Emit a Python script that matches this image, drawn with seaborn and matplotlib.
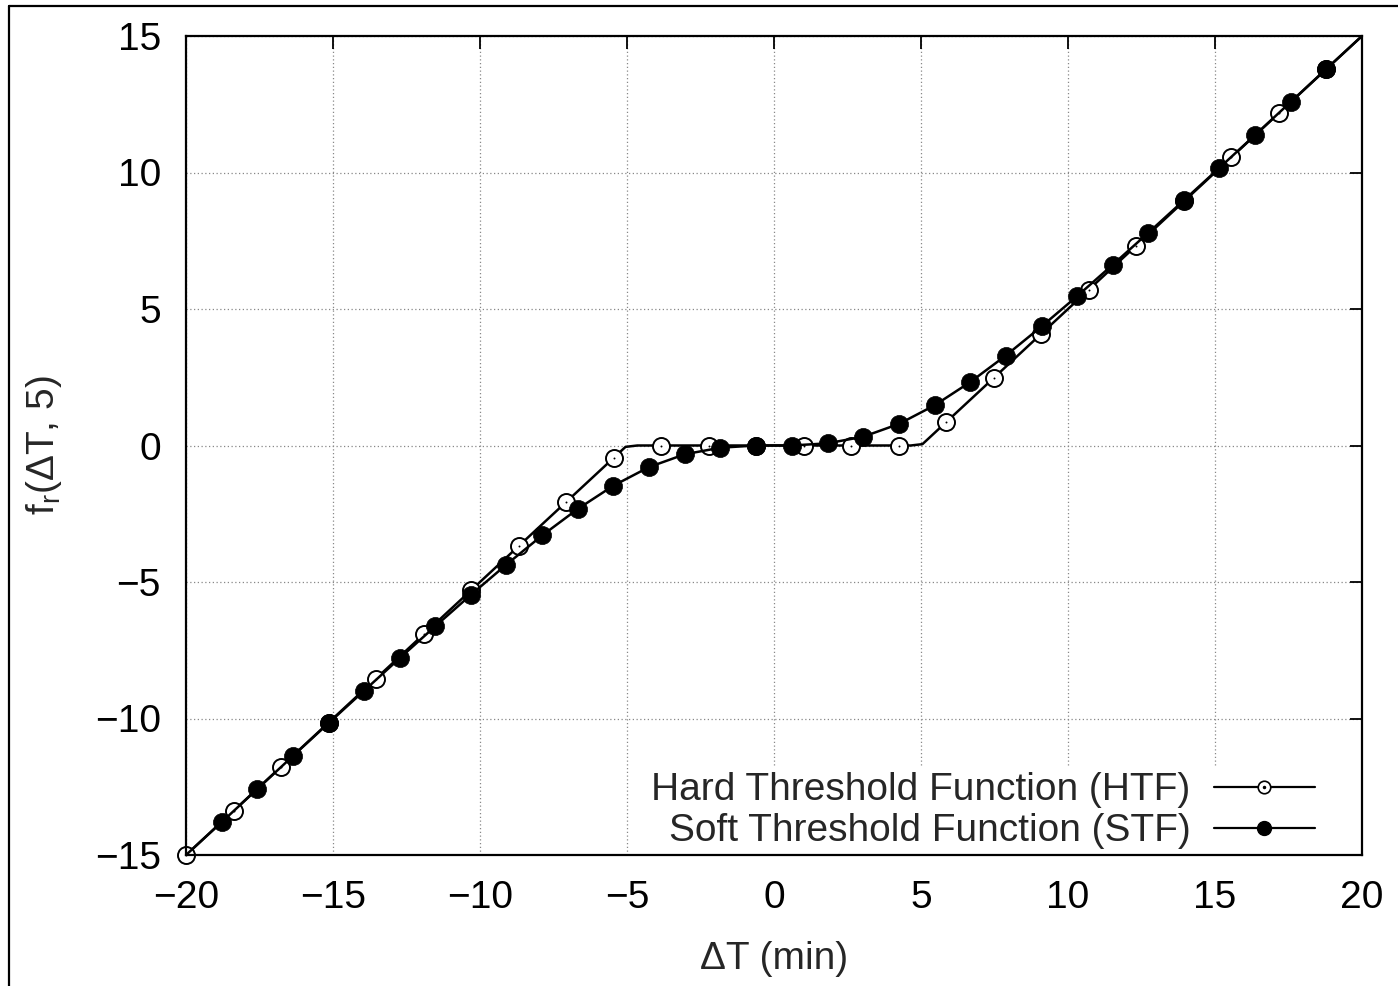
import numpy as np
import pandas as pd
import matplotlib
matplotlib.use('Agg')
import matplotlib.pyplot as plt
from matplotlib.lines import Line2D
import seaborn as sns

# Hard threshold function: line vertices and marker points
htf_line_x = [-20.0, -5.05, -4.65, 4.65, 5.05, 20.0]
htf_line_y = [-15.0, -0.05, 0.0, 0.0, 0.05, 15.0]
htf_x = [-20.00, -18.38, -16.77, -15.15, -13.54, -11.92, -10.30, -8.69, -7.07,
         -5.45, -3.84, -2.22, -0.61, 1.01, 2.63, 4.24, 5.86, 7.47, 9.09,
         10.71, 12.32, 13.94, 15.56, 17.17, 18.79]
htf_y = [-15.00, -13.38, -11.77, -10.15, -8.54, -6.92, -5.30, -3.69, -2.07,
         -0.45, 0.00, 0.00, 0.00, 0.00, 0.00, 0.00, 0.86, 2.47, 4.09,
         5.71, 7.32, 8.94, 10.56, 12.17, 13.79]

# Soft threshold function: marker points (line runs through them and the ends)
stf_x = [-18.79, -17.58, -16.37, -15.15, -13.94, -12.73, -11.52, -10.31, -9.10,
         -7.88, -6.67, -5.46, -4.25, -3.03, -1.82, -0.61, 0.61, 1.82, 3.03,
         4.25, 5.46, 6.67, 7.88, 9.10, 10.31, 11.52, 12.73, 13.94, 15.15,
         16.37, 17.58, 18.79]
stf_y = [-13.80, -12.59, -11.38, -10.17, -8.98, -7.79, -6.62, -5.47, -4.36,
         -3.29, -2.32, -1.47, -0.79, -0.32, -0.08, 0.00, 0.00, 0.08, 0.32,
         0.79, 1.47, 2.32, 3.29, 4.36, 5.47, 6.62, 7.79, 8.98, 10.17,
         11.38, 12.59, 13.80]
stf_line_x = [-20.0] + stf_x + [20.0]
stf_line_y = [-15.0] + stf_y + [15.0]

labels = ['Hard Threshold Function (HTF)', 'Soft Threshold Function (STF)']
xticks = [-20, -15, -10, -5, 0, 5, 10, 15, 20]
yticks = [-15, -10, -5, 0, 5, 10, 15]

sns.set_theme(style='white')
plt.rcParams['font.family'] = ['Liberation Sans', 'DejaVu Sans']
plt.rcParams['mathtext.fontset'] = 'custom'
plt.rcParams['mathtext.rm'] = 'Liberation Sans'
plt.rcParams['mathtext.it'] = 'Liberation Sans'
FS = 28

fig = plt.figure(figsize=(13.98, 9.86), dpi=100)
ax = fig.add_axes([186 / 1398, 1 - 855 / 986, (1362 - 186) / 1398, (855 - 36) / 986])

sns.lineplot(x=htf_line_x, y=htf_line_y, color='black', lw=1.8, sort=False,
             estimator=None, ax=ax, zorder=3)
sns.scatterplot(x=htf_x, y=htf_y, marker='o', s=150, facecolor='white',
                edgecolor='black', linewidth=1.4, ax=ax, zorder=4, clip_on=False)
sns.scatterplot(x=htf_x, y=htf_y, marker='o', s=2, color='black',
                linewidth=0, ax=ax, zorder=4, clip_on=False)
sns.lineplot(x=stf_line_x, y=stf_line_y, color='black', lw=1.8, sort=False,
             estimator=None, ax=ax, zorder=5)
sns.scatterplot(x=stf_x, y=stf_y, marker='o', s=170, color='black',
                edgecolor='black', linewidth=0.5, ax=ax, zorder=6)

ax.set_xlim(-20, 20)
ax.set_ylim(-15, 15)
ax.set_xticks(xticks)
ax.set_yticks(yticks)
ax.tick_params(direction='in', length=9, width=1.3, top=True, right=True,
               labelsize=FS, colors='black')
ax.tick_params(axis='y', pad=18)
ax.tick_params(axis='x', pad=18)
ax.grid(True, linestyle=(0, (1, 2)), color='#888888', lw=0.9)
for sp in ax.spines.values():
    sp.set_linewidth(1.6)
    sp.set_color('black')
    sp.set_zorder(7)

ax.set_xlabel('ΔT (min)', fontsize=FS, labelpad=18)
ax.set_ylabel('f$_{\\mathregular{r}}$(ΔT, 5)', fontsize=FS, labelpad=22)

h_htf = Line2D([], [], color='black', lw=1.6, marker='o', ms=9,
               mfc='white', mec='black', mew=1.2)
h_dot = Line2D([], [], ls='none', marker='o', ms=1.5, color='black')
h_stf = Line2D([], [], color='black', lw=1.6, marker='o', ms=10,
               mfc='black', mec='black')
leg = ax.legend([(h_htf, h_dot), h_stf], labels, loc='lower right',
                bbox_to_anchor=(0.965, 0.0), fontsize=FS, markerfirst=False,
                frameon=True, fancybox=False, framealpha=1, edgecolor='white',
                facecolor='white', handlelength=2.6, handletextpad=0.6,
                labelspacing=0.13, borderpad=0.1, borderaxespad=0.05,
                numpoints=1)
leg.set_zorder(2)

# outer border lines (left and top) of the original image
fig.add_artist(Line2D([8.5 / 1398, 8.5 / 1398], [0, 1 - 6 / 986], color='black', lw=1.6))
fig.add_artist(Line2D([8.5 / 1398, 1], [1 - 6 / 986, 1 - 6 / 986], color='black', lw=1.6))

fig.savefig('out.png', dpi=100)
